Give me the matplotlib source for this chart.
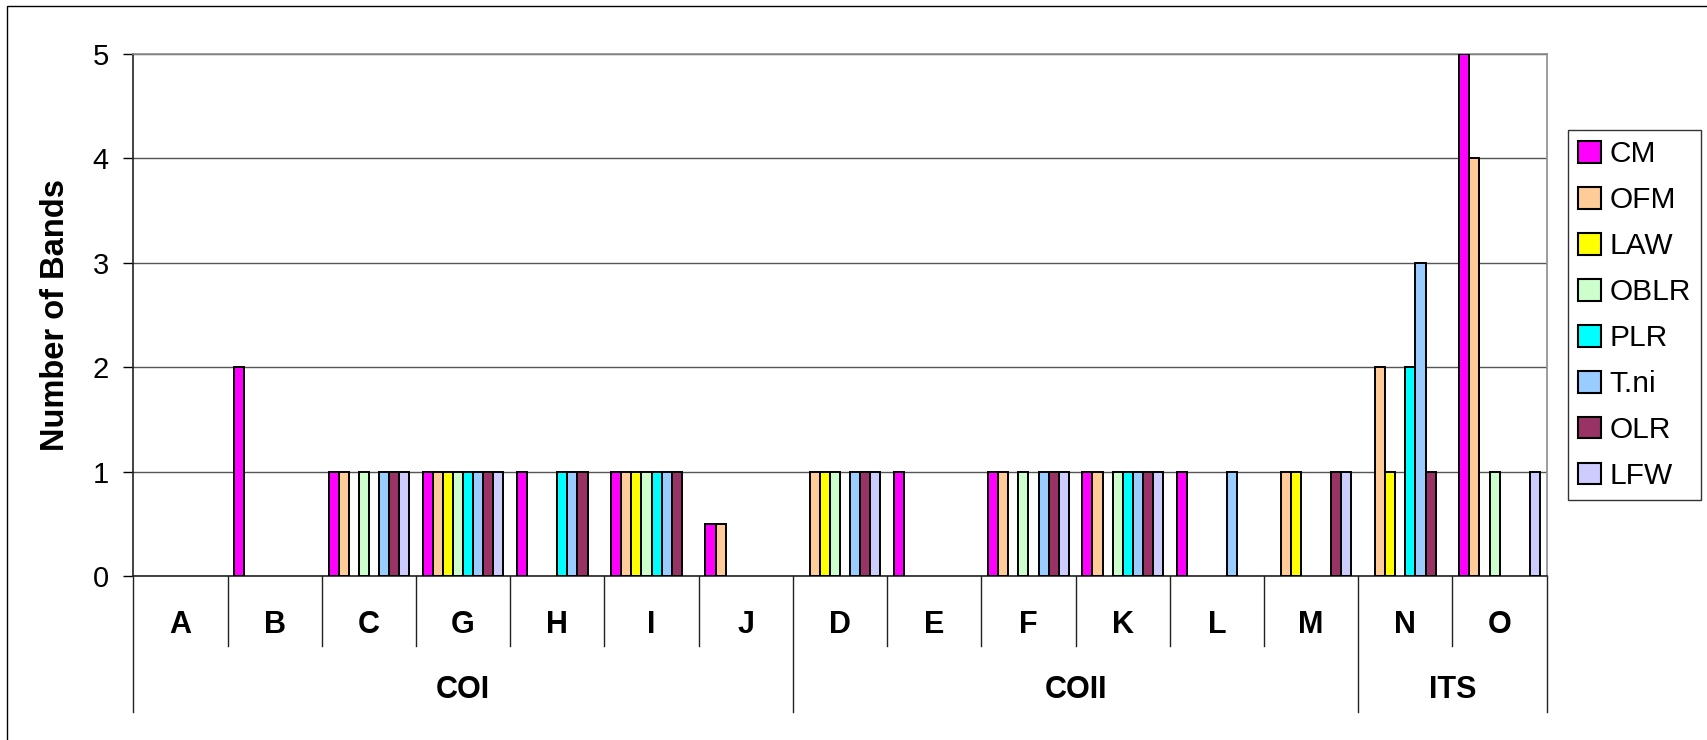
import numpy as np
import matplotlib
matplotlib.use("Agg")
import matplotlib.pyplot as plt
from matplotlib.patches import Rectangle
from matplotlib.transforms import blended_transform_factory

plt.rcParams['font.family'] = ['Liberation Sans', 'DejaVu Sans']

# Regions and their markers
categories = ["A", "B", "C", "G", "H", "I", "J",
              "D", "E", "F", "K", "L", "M",
              "N", "O"]
groups = ["COI", "COII", "ITS"]
group_sizes = [7, 6, 2]

series_names = ["CM", "OFM", "LAW", "OBLR", "PLR", "T.ni", "OLR", "LFW"]
series_colors = ["#FF00FF", "#FFCC99", "#FFFF00", "#CCFFCC",
                 "#00FFFF", "#99CCFF", "#993366", "#CCCCFF"]

#            A  B  C  G  H  I  J    D  E  F  K  L  M  N  O
CM   = [0, 2, 1, 1, 1, 1, 0.5, 0, 1, 1, 1, 1, 0, 0, 5]
OFM  = [0, 0, 1, 1, 0, 1, 0.5, 1, 0, 1, 1, 0, 1, 2, 4]
LAW  = [0, 0, 0, 1, 0, 1, 0,   1, 0, 0, 0, 0, 1, 1, 0]
OBLR = [0, 0, 1, 1, 0, 1, 0,   1, 0, 1, 1, 0, 0, 0, 1]
PLR  = [0, 0, 0, 1, 1, 1, 0,   0, 0, 0, 1, 0, 0, 2, 0]
T_ni = [0, 0, 1, 1, 1, 1, 0,   1, 0, 1, 1, 1, 0, 3, 0]
OLR  = [0, 0, 1, 1, 1, 1, 0,   1, 0, 1, 1, 0, 1, 1, 0]
LFW  = [0, 0, 1, 1, 0, 0, 0,   1, 0, 1, 1, 0, 1, 0, 1]
series_values = [CM, OFM, LAW, OBLR, PLR, T_ni, OLR, LFW]

W, H, DPI = 1707, 740, 100
fig = plt.figure(figsize=(W / DPI, H / DPI), dpi=DPI)
fig.patch.set_facecolor("white")

# outer chart frame
fig.patches.append(Rectangle((7 / W, 1 - 6 / H), 1.0, -1.0, transform=fig.transFigure,
                             fill=False, edgecolor="black", linewidth=1.0))

left, right, top, bottom = 133.3, 1546.7, 54, 576
ax = fig.add_axes([left / W, 1 - bottom / H, (right - left) / W, (bottom - top) / H])

n_cat = len(categories)
n_ser = len(series_names)
bar_w = 0.107
x_cent = np.arange(n_cat) + 0.5

for j, (name, vals, col) in enumerate(zip(series_names, series_values, series_colors)):
    vals = np.asarray(vals, dtype=float)
    xs = x_cent + (j - (n_ser - 1) / 2) * bar_w
    keep = vals > 0
    ax.bar(xs[keep], vals[keep], width=bar_w, color=col, edgecolor="black",
           linewidth=1.4, zorder=3, label=name)

ax.set_xlim(0, n_cat)
ax.set_ylim(0, 5)
ax.set_yticks(range(0, 6))
ax.tick_params(axis="y", direction="out", length=7.5, width=1, pad=10,
               labelsize=21, colors="black")
ax.set_xticks([])
ax.yaxis.grid(True, color="#555555", linewidth=1, zorder=0)
ax.set_axisbelow(True)

ax.spines["left"].set_color("#222222")
ax.spines["bottom"].set_color("#222222")
ax.spines["top"].set_color("#8c8c8c")
ax.spines["right"].set_color("#8c8c8c")
for s in ax.spines.values():
    s.set_linewidth(1.2)

fig.text(56 / W, 1 - 315 / H, "Number of Bands", rotation=90, ha="center",
         va="center", fontsize=23.5, fontweight="bold")

# two-level category axis
ah = bottom - top
trans = blended_transform_factory(ax.transData, ax.transAxes)
y_cat_line = -(646 - bottom) / ah
y_grp_line = -(712 - bottom) / ah
y_cat_lab = -(625 - bottom) / ah
y_grp_lab = -(690 - bottom) / ah

bounds = np.concatenate([[0], np.cumsum(group_sizes)])
for b in range(n_cat + 1):
    yend = y_grp_line if b in bounds else y_cat_line
    ax.plot([b, b], [0, yend], transform=trans, color="#222222", linewidth=1,
            clip_on=False, zorder=1)
for i, c in enumerate(categories):
    ax.text(x_cent[i], y_cat_lab, c, transform=trans, ha="center", va="center",
            fontsize=22, fontweight="bold")
for g, name in enumerate(groups):
    xc = (bounds[g] + bounds[g + 1]) / 2
    ax.text(xc, y_grp_lab, name, transform=trans, ha="center", va="center",
            fontsize=22, fontweight="bold")

handles = [Rectangle((0, 0), 1, 1, facecolor=c, edgecolor="black", linewidth=1.5)
           for c in series_colors]
leg = fig.legend(handles, series_names, loc="upper left",
                 bbox_to_anchor=(1568 / W, 1 - 130 / H), fontsize=21.5,
                 frameon=True, fancybox=False, shadow=False,
                 handlelength=0.75, handleheight=0.75, handletextpad=0.28,
                 labelspacing=0.6, borderpad=0.35, borderaxespad=0)
leg.get_frame().set_edgecolor("black")
leg.get_frame().set_linewidth(1.0)

fig.savefig("out.png", dpi=DPI, facecolor="white")
